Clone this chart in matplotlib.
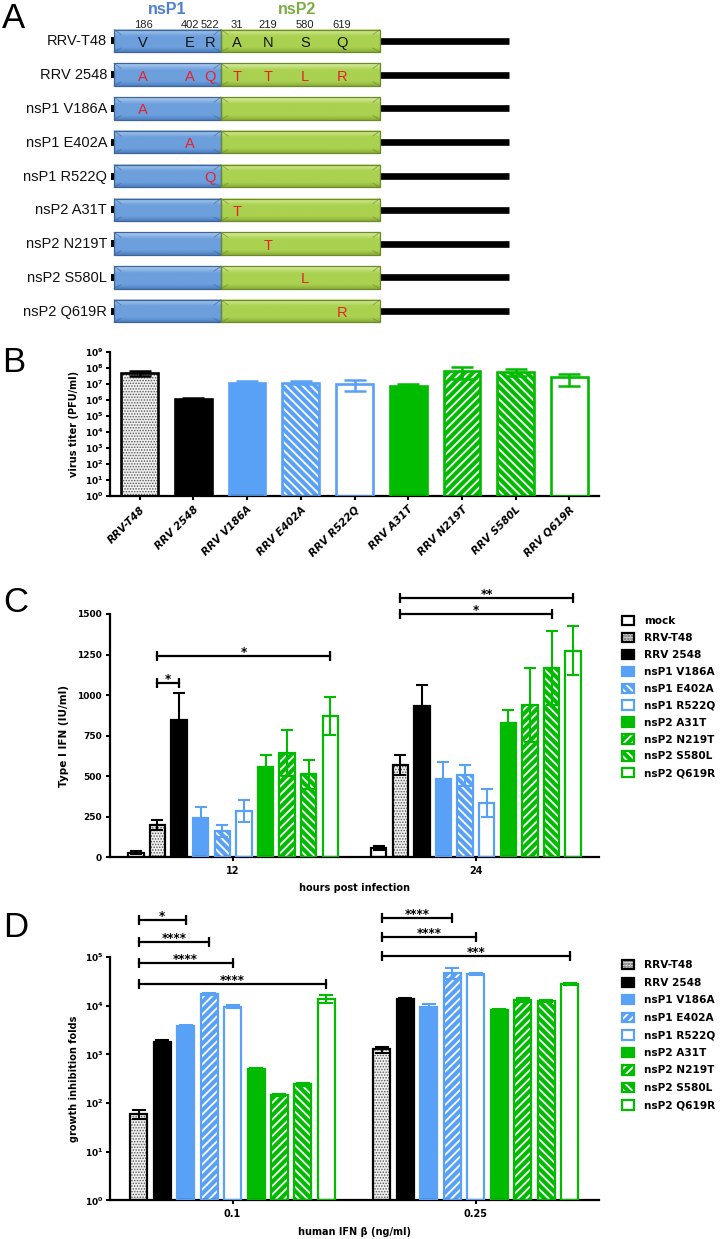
"""Recreation of a four-panel figure: nsP1/nsP2 construct map, virus titers,
type I IFN induction and IFN-beta growth inhibition."""
import numpy as np
import matplotlib
matplotlib.use("Agg")
import matplotlib.pyplot as plt
from matplotlib.colors import to_rgb
from matplotlib.patches import Rectangle
from matplotlib.ticker import NullLocator

plt.rcParams["font.family"] = ["DejaVu Sans"]
plt.rcParams["font.weight"] = "bold"
plt.rcParams["hatch.linewidth"] = 1.3
plt.rcParams["axes.linewidth"] = 1.6
plt.rcParams["mathtext.fontset"] = "dejavusans"

W, H = 721, 1239

# ---------------- panel A: constructs ----------------
constructs = ["RRV-T48", "RRV 2548", "nsP1 V186A", "nsP1 E402A", "nsP1 R522Q",
              "nsP2 A31T", "nsP2 N219T", "nsP2 S580L", "nsP2 Q619R"]
site_numbers = ["186", "402", "522", "31", "219", "580", "619"]
wt_residues = ["V", "E", "R", "A", "N", "S", "Q"]
mut_residues = ["A", "A", "Q", "T", "T", "L", "R"]
mutated_sites = [[], [0, 1, 2, 3, 4, 5, 6], [0], [1], [2], [3], [4], [5], [6]]

# ---------------- panel B: virus titer ----------------
b_names = ["RRV-T48", "RRV 2548", "RRV V186A", "RRV E402A", "RRV R522Q",
           "RRV A31T", "RRV N219T", "RRV S580L", "RRV Q619R"]
b_titer = [4.9e7, 1.07e6, 1.17e7, 1.17e7, 1.0e7, 7.2e6, 6.6e7, 5.2e7, 2.5e7]
b_low = [3.0e7, 9.5e5, 1.0e7, 9.1e6, 3.5e6, 6.5e6, 2.0e7, 3.0e7, 7.2e6]
b_high = [6.0e7, 1.23e6, 1.41e7, 1.41e7, 1.62e7, 9.8e6, 1.05e8, 7.9e7, 3.9e7]

# ---------------- panel C: type I IFN ----------------
c_series = ["mock", "RRV-T48", "RRV 2548", "nsP1 V186A", "nsP1 E402A", "nsP1 R522Q",
            "nsP2 A31T", "nsP2 N219T", "nsP2 S580L", "nsP2 Q619R"]
c_hours = ["12", "24"]
c_ifn_12h = [29, 199, 847, 240, 162, 286, 555, 645, 512, 873]
c_sem_12h = [10, 29, 168, 72, 37, 67, 76, 142, 88, 118]
c_ifn_24h = [58, 569, 933, 481, 505, 337, 830, 939, 1165, 1274]
c_sem_24h = [14, 64, 129, 109, 64, 86, 78, 228, 228, 150]
# (group, series a, series b, height, label)
c_sig = [(0, 1, 2, 1072, "*"), (0, 1, 9, 1241, "*"),
         (1, 1, 8, 1500, "*"), (1, 1, 9, 1596, "**")]

# ---------------- panel D: growth inhibition ----------------
d_series = c_series[1:]
d_doses = ["0.1", "0.25"]
d_fold_01 = [59, 1820, 3900, 17400, 9550, 490, 146, 240, 13700]
d_sem_01 = [13, 180, 100, 700, 700, 40, 10, 15, 2500]
d_fold_025 = [1260, 13500, 9300, 48000, 45000, 8200, 13100, 12500, 28000]
d_sem_025 = [180, 900, 1400, 12000, 2000, 400, 1200, 500, 1800]
d_sig = [(0, 0, 2, 5.75e5, "*"), (0, 0, 3, 2.0e5, "****"), (0, 0, 4, 7.5e4, "****"),
         (0, 0, 8, 2.83e4, "****"), (1, 0, 3, 6.46e5, "****"),
         (1, 0, 4, 2.63e5, "****"), (1, 0, 8, 1.05e5, "***")]

# ---------------- styles ----------------
BLUE = "#59a1f6"
GREEN = "#00bb00"
RED = "#e8202a"
FACE = {"mock": "white", "RRV-T48": "dots", "2548": "black", "V186A": BLUE,
        "E402A": BLUE, "R522Q": "white", "A31T": GREEN, "N219T": GREEN,
        "S580L": GREEN, "Q619R": "white"}
EDGE = {"mock": "black", "RRV-T48": "black", "2548": "black", "V186A": BLUE,
        "E402A": BLUE, "R522Q": BLUE, "A31T": GREEN, "N219T": GREEN,
        "S580L": GREEN, "Q619R": GREEN}
HATCH = {"E402A": "\\\\\\\\", "N219T": "////", "S580L": "\\\\\\\\"}
HATCH_D = dict(HATCH, E402A="////")


def styled_bar(ax, x, top, width, key, hatch, lw, bottom=0.0):
    x = np.atleast_1d(x)
    top = np.atleast_1d(np.asarray(top, dtype=float))
    h = top - bottom
    fc, ec = FACE[key], EDGE[key]
    if fc == "dots":
        with plt.rc_context({"hatch.linewidth": 0.7}):
            fill = ax.bar(x, h, width, bottom=bottom, color="#f0f0f0", edgecolor="#555555",
                          hatch="......", linewidth=0, zorder=2)
    elif hatch:
        fill = ax.bar(x, h, width, bottom=bottom, color=fc, edgecolor="white",
                      hatch=hatch, linewidth=0, zorder=2)
    else:
        fill = ax.bar(x, h, width, bottom=bottom, color=fc, linewidth=0, zorder=2)
    edge = ax.bar(x, h, width, bottom=bottom, fill=False, edgecolor=ec,
                  linewidth=lw, zorder=3)
    return (fill[0], edge[0])


def style_axes(ax):
    for side in ("top", "right"):
        ax.spines[side].set_visible(False)
    ax.tick_params(axis="both", direction="out", length=3, width=1.5, labelsize=6.5, pad=1.5)


def bracket(ax, x0, x1, y, label):
    ax.plot([x0, x1], [y, y], color="black", lw=1.6, clip_on=False, zorder=5)
    ax.plot([x0, x1], [y, y], ls="none", marker="|", ms=7.5, mew=1.6,
            color="black", clip_on=False, zorder=5)
    ax.text((x0 + x1) / 2, y, label, ha="center", va="baseline", fontsize=8.5,
            weight="bold", clip_on=False, zorder=6)


fig = plt.figure(figsize=(W / 100, H / 100), dpi=100)

# ================= panel A (drawn in pixel coordinates) =================
axA = fig.add_axes([0, 0, 1, 1])
axA.set_axis_off()
FA = "Liberation Sans"

row_y0, row_step = 40.8, 33.8
site_x = [143, 190, 210, 237, 268, 305, 342]
x_stub, x_p1, x_p2, x_end, x_tail = 110.5, 114, 221, 380, 509
bar_h = 22.5
BLUE_SHADES = ("#b2cff0", "#6c9fdc", "#4e7fc0", "#3f6596")
GREEN_SHADES = ("#dcefa5", "#aad150", "#8aae37", "#6d8a2b")


def gradient_box(ax, x0, x1, yc, h, shades):
    top, mid, bot, edge = shades
    t = np.linspace(0, 1, 60)[:, None]
    c_top, c_mid, c_bot = (np.array(to_rgb(c)) for c in (top, mid, bot))
    cols = np.where(t < 0.3, c_top + (c_mid - c_top) * (t / 0.3),
                    np.where(t < 0.8, c_mid, c_mid + (c_bot - c_mid) * ((t - 0.8) / 0.2)))
    ax.imshow(cols[:, None, :], extent=[x0, x1, yc + h / 2, yc - h / 2],
              aspect="auto", interpolation="bilinear", zorder=2)
    ax.add_patch(Rectangle((x0, yc - h / 2), x1 - x0, h, fill=False, ec=edge,
                           lw=0.9, zorder=3))
    b = 7
    for sx, xx in ((1, x0), (-1, x1)):
        ax.plot([xx, xx + sx * b], [yc - h / 2, yc - h / 2 + 5], color=edge,
                lw=0.6, alpha=0.7, zorder=3)
        ax.plot([xx, xx + sx * b], [yc + h / 2, yc + h / 2 - 4], color=edge,
                lw=0.6, alpha=0.7, zorder=3)


axA.text(167, 9.5, "nsP1", ha="center", va="center", fontsize=11.5, family=FA,
         weight="bold", color="#4f7fcf")
axA.text(297, 9.5, "nsP2", ha="center", va="center", fontsize=11.5, family=FA,
         weight="bold", color="#7aae45")
for k, num in enumerate(site_numbers):
    axA.text(site_x[k], 24.5, num, ha="center", va="center", fontsize=8,
             family=FA, weight="normal", color="#222222")

for r, name in enumerate(constructs):
    yc = row_y0 + r * row_step
    axA.text(107, yc + 0.5, name, ha="right", va="center", fontsize=10.5, family=FA,
             weight="normal", color="#111111")
    axA.add_patch(Rectangle((x_stub, yc - 3.5), x_p1 - x_stub, 7, color="black", lw=0))
    gradient_box(axA, x_p1, x_p2, yc, bar_h, BLUE_SHADES)
    gradient_box(axA, x_p2, x_end, yc, bar_h, GREEN_SHADES)
    axA.plot([x_end, x_tail], [yc, yc], color="black", lw=4.8, solid_capstyle="butt")
    if r == 0:
        for k, res in enumerate(wt_residues):
            axA.text(site_x[k], yc + 2, res, ha="center", va="center", fontsize=10.5,
                     family=FA, weight="normal", color="#141414", zorder=4)
    for k in mutated_sites[r]:
        axA.text(site_x[k], yc + 2, mut_residues[k], ha="center", va="center",
                 fontsize=10.5, family=FA, weight="normal", color=RED, zorder=4)

for letter, xl, yb in (("A", 2, 28), ("B", 2, 372), ("C", 3, 612), ("D", 3, 937)):
    axA.text(xl, yb, letter, ha="left", va="baseline", fontsize=25, family=FA,
             weight="normal", color="black")
axA.set_xlim(0, W)
axA.set_ylim(H, 0)

# ================= panel B =================
axB = fig.add_axes([110 / W, 1 - 496 / H, 489 / W, 144.3 / H])
xb = np.arange(len(b_names))
for i, name in enumerate(b_names):
    key = name.split()[-1]
    styled_bar(axB, xb[i], b_titer[i], 0.68, key, HATCH.get(key), 1.9, bottom=1.0)
    axB.errorbar(xb[i], b_titer[i],
                 yerr=[[b_titer[i] - b_low[i]], [b_high[i] - b_titer[i]]],
                 fmt="none", ecolor=EDGE[key], elinewidth=1.8, capsize=8,
                 capthick=1.8, zorder=4)
axB.set_yscale("log")
axB.set_ylim(1, 1e9)
axB.set_xlim(-0.55, 8.55)
axB.set_yticks(10.0 ** np.arange(10))
axB.set_yticklabels([rf"$\mathbf{{10^{{{k}}}}}$" for k in range(10)])
axB.yaxis.set_minor_locator(NullLocator())
axB.set_xticks(xb)
style_axes(axB)
axB.set_xticklabels(b_names, rotation=45, ha="right", rotation_mode="anchor",
                    fontsize=7.5, weight="bold", style="italic")
axB.tick_params(axis="x", pad=3)
axB.set_ylabel("virus titer (PFU/ml)", fontsize=7, weight="bold")
axB.yaxis.set_label_coords(-0.063, 0.5)

# ================= panel C =================
axC = fig.add_axes([110 / W, 1 - 857.3 / H, 489 / W, 243.3 / H])
step_c, width_c = 0.089, 0.063
c_values = np.array([c_ifn_12h, c_ifn_24h])
c_errors = np.array([c_sem_12h, c_sem_24h])
groups = np.arange(len(c_hours))
c_handles = []
for i, name in enumerate(c_series):
    key = name.split()[-1]
    xs = groups + (i - 4.5) * step_c
    c_handles.append(styled_bar(axC, xs, c_values[:, i], width_c, key, HATCH.get(key), 1.6))
    axC.errorbar(xs, c_values[:, i], yerr=c_errors[:, i], fmt="none", ecolor=EDGE[key],
                 elinewidth=1.5, capsize=4.2, capthick=1.5, zorder=4)
for g, a, b, y, lab in c_sig:
    bracket(axC, g + (a - 4.5) * step_c, g + (b - 4.5) * step_c, y, lab)
axC.set_xlim(-0.507, 1.507)
axC.set_ylim(0, 1500)
axC.set_yticks([0, 250, 500, 750, 1000, 1250, 1500])
axC.set_xticks(groups)
axC.set_xticklabels(c_hours)
style_axes(axC)
axC.tick_params(axis="y", pad=3)
axC.tick_params(axis="x", labelsize=7, pad=3)
axC.set_ylabel("Type I IFN (IU/ml)", fontsize=7.5, weight="bold")
axC.yaxis.set_label_coords(-0.084, 0.5)
axC.set_xlabel("hours post infection", fontsize=7, weight="bold")
axC.xaxis.set_label_coords(0.5, -0.104)
axC.legend(c_handles, c_series, loc="upper left", bbox_to_anchor=(622 / W, 1 - 616 / H),
           bbox_transform=fig.transFigure, frameon=False, borderpad=0, borderaxespad=0,
           handlelength=1.1, handleheight=1.0, handletextpad=1.0, labelspacing=0.62,
           prop=dict(size=7.6, weight="bold"))

# ================= panel D =================
axD = fig.add_axes([110 / W, 1 - 1200.3 / H, 489 / W, 243.3 / H])
step_d, width_d = 0.0965, 0.07
d_values = np.array([d_fold_01, d_fold_025])
d_errors = np.array([d_sem_01, d_sem_025])
d_handles = []
for i, name in enumerate(d_series):
    key = name.split()[-1]
    xs = groups + (i - 4) * step_d
    d_handles.append(styled_bar(axD, xs, d_values[:, i], width_d, key, HATCH_D.get(key),
                                1.6, bottom=1.0))
    axD.errorbar(xs, d_values[:, i], yerr=d_errors[:, i], fmt="none", ecolor=EDGE[key],
                 elinewidth=1.5, capsize=4.8, capthick=1.5, zorder=4)
for g, a, b, y, lab in d_sig:
    bracket(axD, g + (a - 4) * step_d, g + (b - 4) * step_d, y, lab)
axD.set_yscale("log")
axD.set_ylim(1, 1e5)
axD.set_xlim(-0.504, 1.507)
axD.set_yticks(10.0 ** np.arange(6))
axD.set_yticklabels([rf"$\mathbf{{10^{{{k}}}}}$" for k in range(6)])
axD.yaxis.set_minor_locator(NullLocator())
axD.set_xticks(groups)
axD.set_xticklabels(d_doses)
style_axes(axD)
axD.tick_params(axis="x", labelsize=7, pad=3)
axD.set_ylabel("growth inhibition folds", fontsize=7, weight="bold")
axD.yaxis.set_label_coords(-0.063, 0.5)
axD.set_xlabel("human IFN β (ng/ml)", fontsize=7, weight="bold")
axD.xaxis.set_label_coords(0.5, -0.111)
axD.legend(d_handles, d_series, loc="upper left", bbox_to_anchor=(622 / W, 1 - 960 / H),
           bbox_transform=fig.transFigure, frameon=False, borderpad=0, borderaxespad=0,
           handlelength=1.1, handleheight=1.0, handletextpad=1.0, labelspacing=0.68,
           prop=dict(size=7.6, weight="bold"))

fig.savefig("out.png", dpi=100)
